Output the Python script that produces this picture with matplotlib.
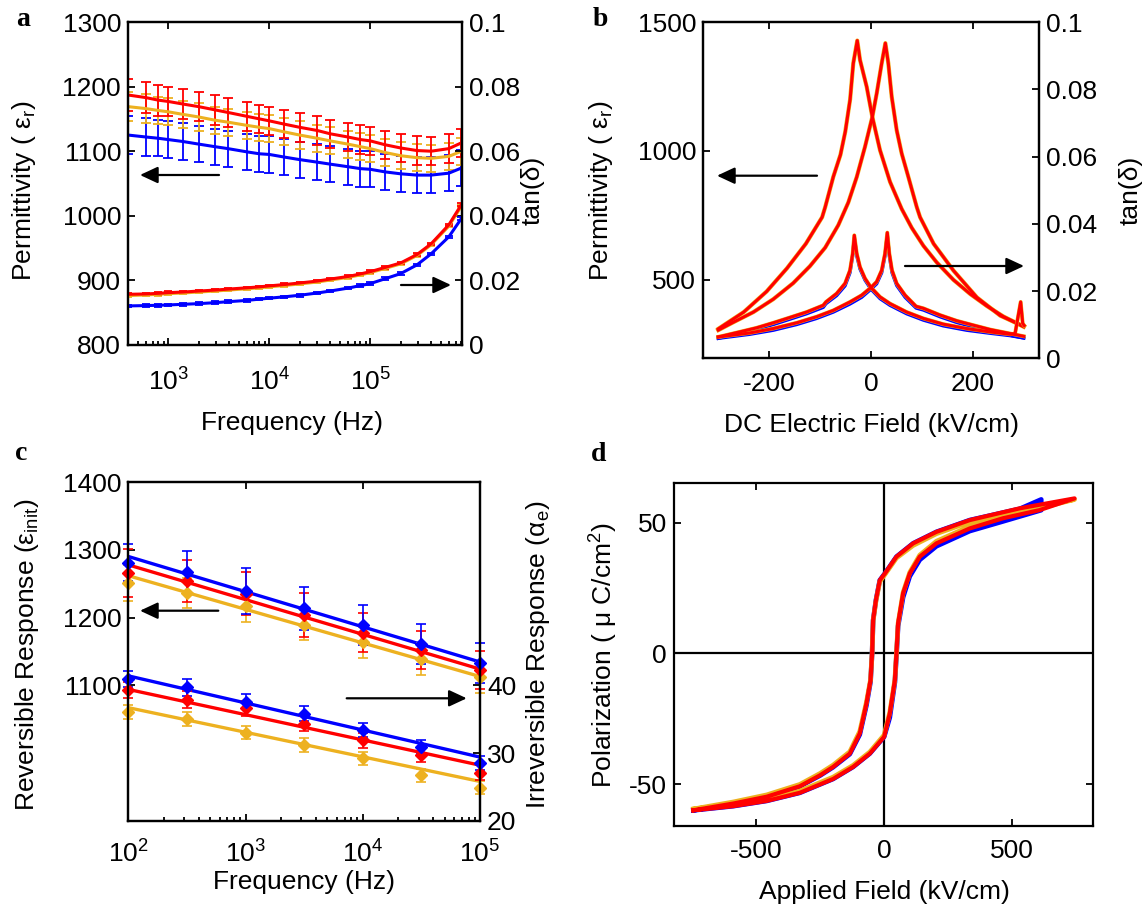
import numpy as np
import matplotlib
matplotlib.use("Agg")
import matplotlib.pyplot as plt
from matplotlib.patches import FancyArrowPatch
from matplotlib.ticker import LogLocator, NullFormatter, FuncFormatter

plt.rcParams['font.family'] = ['Liberation Sans', 'DejaVu Sans']
plt.rcParams['mathtext.fontset'] = 'custom'
plt.rcParams['mathtext.rm'] = 'Liberation Sans'
plt.rcParams['mathtext.it'] = 'Liberation Sans:italic'
plt.rcParams['mathtext.bf'] = 'Liberation Sans:bold'
plt.rcParams['axes.unicode_minus'] = False

RED = '#FF0000'
ORANGE = '#EDB120'
BLUE = '#0000FF'

# ---------------- (a) permittivity and loss vs frequency ----------------
freq_a = [400, 600, 800, 1000, 1400, 2000, 2900, 3900, 6000, 8000, 1e4, 1.4e4,
          2e4, 3e4, 4e4, 6e4, 8e4, 1e5, 1.4e5, 2e5, 2.9e5, 4e5, 6e5, 8e5]
eps_red_a = [1187, 1183, 1179, 1177, 1173, 1169, 1164, 1160, 1154, 1150, 1147, 1142,
             1137, 1132, 1127, 1122, 1118, 1116, 1110, 1105, 1101, 1100, 1104, 1113]
eps_orange_a = [1169, 1166, 1163, 1161, 1157, 1153, 1148, 1145, 1140, 1137, 1135, 1130,
                1125, 1120, 1116, 1111, 1107, 1104, 1098, 1093, 1090, 1089, 1092, 1100]
eps_blue_a = [1125, 1122, 1120, 1118, 1115, 1111, 1107, 1104, 1099, 1096, 1095, 1091,
              1087, 1083, 1080, 1076, 1073, 1072, 1068, 1065, 1063, 1063, 1066, 1074]
eps_err_red_a = [24, 24, 24, 23, 23, 23, 23, 22, 22, 22, 22, 22,
                 22, 22, 22, 22, 22, 22, 22, 22, 22, 22, 22, 22]
eps_err_orange_a = [22, 22, 21, 21, 21, 21, 21, 21, 21, 21, 21, 21,
                    21, 21, 21, 21, 21, 21, 21, 21, 21, 21, 21, 21]
eps_err_blue_a = [29, 29, 28, 28, 28, 28, 28, 28, 28, 28, 28, 28,
                  28, 28, 28, 28, 28, 28, 28, 28, 28, 28, 28, 28]
tan_red_a = [0.0157, 0.0158, 0.0160, 0.0162, 0.0164, 0.0167, 0.0170, 0.0173, 0.0177, 0.0180,
             0.0183, 0.0187, 0.0192, 0.0198, 0.0204, 0.0212, 0.0220, 0.0227, 0.0240, 0.0254,
             0.0280, 0.0313, 0.0372, 0.0435]
tan_orange_a = [0.0153, 0.0155, 0.0157, 0.0159, 0.0161, 0.0164, 0.0167, 0.0170, 0.0174, 0.0177,
                0.0180, 0.0184, 0.0189, 0.0195, 0.0201, 0.0209, 0.0217, 0.0224, 0.0237, 0.0251,
                0.0277, 0.0310, 0.0368, 0.0430]
tan_blue_a = [0.0121, 0.0122, 0.0123, 0.0124, 0.0126, 0.0128, 0.0131, 0.0134, 0.0138, 0.0142,
              0.0145, 0.0149, 0.0154, 0.0161, 0.0167, 0.0176, 0.0184, 0.0190, 0.0205, 0.0221,
              0.0248, 0.0282, 0.0335, 0.0392]
tan_err_a = [0.0004] * 24

# ---------------- (b) permittivity and loss vs DC field ----------------
field_eps_down = [-300, -250, -205, -165, -128, -96, -90, -74, -60, -50.5, -41, -34.8, -27,
                  -21.6, -8.5, 2.6, 17.7, 37.4, 60.3, 80, 103, 129, 162, 195, 228, 260, 300]
eps_down = [310, 375, 455, 545, 640, 743, 782, 900, 985, 1075, 1200, 1340, 1428,
            1353, 1249, 1132, 1003, 880, 775, 702, 632, 568, 500, 445, 398, 358, 318]
field_eps_up = [-300, -271, -231, -192, -153, -120, -90, -64.3, -44.6, -28, -11.8, 2.6, 11.2,
                21, 28.2, 34, 40.7, 50.5, 60.3, 73.4, 89.9, 96.4, 123, 162, 208, 254, 300]
eps_up = [305, 335, 375, 425, 487, 553, 625, 712, 800, 899, 1016, 1132, 1223,
          1340, 1418, 1340, 1210, 1080, 990, 899, 782, 743, 640, 536, 432, 361, 320]

field_tan_down = [-300, -258, -225, -192, -159, -126.5, -93.8, -88.5, -67.5, -51, -41.3, -36, -32.8,
                  -28, -21.6, -11.8, 0, 17.7, 37.4, 70, 103, 142, 188, 234, 273, 283, 294, 298, 301]
tan_down = [0.0064, 0.0079, 0.0091, 0.0106, 0.0122, 0.0138, 0.0158, 0.0168, 0.0193, 0.0223,
            0.0262, 0.0312, 0.0366, 0.0312, 0.0272, 0.0238, 0.0211, 0.0183, 0.0163, 0.0138,
            0.0119, 0.0102, 0.0089, 0.0079, 0.0072, 0.0074, 0.0168, 0.0104, 0.0098]
field_tan_up = [-300, -238, -192, -146, -107, -74, -41.3, -18.3, 0, 11.1, 21, 27.5, 32,
                36, 41.3, 50.5, 67, 88.5, 103, 135.7, 168.5, 201, 234, 267, 300]
tan_up = [0.0064, 0.0076, 0.0089, 0.0106, 0.0124, 0.0143, 0.0168, 0.0188, 0.0211, 0.0228,
          0.0262, 0.0312, 0.0374, 0.0312, 0.0262, 0.0223, 0.0188, 0.0155, 0.0149, 0.0129,
          0.0112, 0.0099, 0.0086, 0.0076, 0.0066]
field_tan_down_blue = [-300, -258, -225, -192, -159, -126.5, -93.8, -88.5, -67.5, -51, -41.3, -36,
                       -32.8, -28, -21.6, -11.8, 0, 17.7, 37.4, 70, 103, 142, 188, 234, 273, 300]
tan_down_blue = [0.0060, 0.0075, 0.0087, 0.0101, 0.0117, 0.0133, 0.0152, 0.0163, 0.0187, 0.0216,
                 0.0255, 0.0305, 0.0358, 0.0305, 0.0266, 0.0233, 0.0206, 0.0178, 0.0158, 0.0133,
                 0.0114, 0.0097, 0.0084, 0.0075, 0.0068, 0.0061]
tan_up_blue = [0.0060, 0.0072, 0.0084, 0.0101, 0.0119, 0.0138, 0.0162, 0.0182, 0.0206, 0.0222,
               0.0255, 0.0305, 0.0366, 0.0305, 0.0255, 0.0217, 0.0182, 0.0150, 0.0144, 0.0124,
               0.0107, 0.0094, 0.0081, 0.0071, 0.0061]

# ---------------- (c) Rayleigh analysis vs frequency ----------------
freq_c = [100, 316, 1000, 3162, 10000, 31623, 100000]
eps_init_blue = [1281.5, 1267, 1239, 1214, 1189.6, 1161.5, 1133]
eps_init_red = [1265.8, 1253.5, 1235.3, 1204, 1178, 1152.7, 1123]
eps_init_orange = [1251, 1236, 1217.6, 1189.6, 1163.5, 1139, 1112]
eps_init_err_blue = [27.5, 32, 34, 32, 29.5, 29.5, 29.5]
eps_init_err_red = [35, 31, 31.5, 32, 29, 28, 28]
eps_init_err_orange = [27, 22, 24, 22, 23, 23, 23]
alpha_blue = [40.9, 39.7, 37.6, 35.8, 33.4, 30.9, 28.5]
alpha_red = [39.3, 37.9, 36.6, 34.3, 31.9, 29.7, 27.1]
alpha_orange = [36.1, 35.0, 33.0, 31.2, 29.2, 26.7, 24.9]
alpha_err_blue = [1.2, 1.3, 1.1, 1.1, 1.1, 1.0, 1.0]
alpha_err_red = [1.2, 1.2, 1.1, 1.1, 1.1, 1.1, 1.1]
alpha_err_orange = [1.0, 1.0, 1.0, 1.0, 1.0, 1.0, 1.0]
freq_fit = [100, 100000]
eps_fit_blue = [1290.4, 1134.5]
eps_fit_red = [1278, 1124]
eps_fit_orange = [1262, 1113]
alpha_fit_blue = [41.4, 29.4]
alpha_fit_red = [39.4, 28.2]
alpha_fit_orange = [36.7, 25.8]

# ---------------- (d) polarization hysteresis ----------------
field_loop_red = [-744, -588, -458, -329, -199, -121, -56, 0, 22, 42, 48, 54.5, 74, 100, 139, 204,
                  334, 464, 606, 743,
                  529, 334, 204, 113, 48, 3, -17, -32, -43, -47, -53, -69, -95, -134, -199,
                  -250, -329, -458, -588, -744]
pol_loop_red = [-60.0, -58.4, -56.4, -53.3, -48.0, -43.4, -38.3, -31.9, -23.0, -10.2, 0, 11.5,
                23.0, 30.6, 37.0, 42.1, 47.8, 51.7, 54.8, 59.3,
                55.5, 51.0, 46.5, 42.1, 37.0, 30.6, 28.0, 20.4, 12.7, 0, -10.2, -19.1, -30.6,
                -38.3, -43.4, -46.6, -50.8, -54.8, -57.4, -60.0]
field_loop_orange = [-744, -588, -458, -329, -199, -121, -56, 0, 22, 42, 48, 54.5, 74, 100, 139,
                     204, 334, 464, 606, 743,
                     529, 334, 204, 113, 48, 3, -17, -32, -43, -47, -53, -69, -95, -134, -199,
                     -250, -329, -458, -588, -744]
pol_loop_orange = [-59.5, -57.7, -55.8, -52.6, -47.3, -42.8, -37.7, -31.2, -22.5, -10.0, 0, 11.5,
                   23.3, 31.0, 37.6, 42.9, 48.6, 52.4, 55.5, 58.9,
                   55.0, 50.3, 45.8, 41.3, 36.5, 30.2, 27.5, 20.0, 12.5, 0, -10.0, -18.6, -29.8,
                   -37.6, -42.7, -45.9, -50.1, -54.1, -56.8, -59.5]
field_loop_blue = [-744, -588, -458, -329, -199, -121, -56, 0, 22, 42, 48, 54.5, 74, 100, 139, 204,
                   334, 464, 613, 613,
                   529, 334, 204, 113, 48, 3, -17, -32, -43, -47, -53, -69, -95, -134, -199,
                   -250, -329, -458, -588, -744]
pol_loop_blue = [-60.0, -58.4, -56.4, -53.3, -48.0, -43.4, -38.3, -31.9, -24.5, -11.0, -1.0, 10.5,
                 21.5, 29.5, 35.8, 41.0, 46.8, 50.5, 54.8, 58.9,
                 55.3, 51.0, 46.5, 42.1, 37.0, 30.6, 28.0, 20.4, 12.7, 0, -10.8, -19.8, -31.0,
                 -38.5, -43.5, -46.7, -50.8, -54.8, -57.4, -60.0]

FS = 19
W, H = 1148, 911
fig = plt.figure(figsize=(W / 100, H / 100), dpi=100)


def box(l, t, r, b):
    return [l / W, 1 - b / H, (r - l) / W, (b - t) / H]


def style(ax, xpad=9):
    for s in ax.spines.values():
        s.set_linewidth(1.6)
    ax.tick_params(which='both', direction='in', labelsize=FS, width=1.3)
    ax.tick_params(which='major', length=5)
    ax.tick_params(which='minor', length=3)
    ax.tick_params(axis='y', pad=5)
    ax.tick_params(axis='x', pad=xpad)


def fmt_g(v, pos):
    return '%g' % v


def arrow(x0, y0, x1, y1):
    fig.add_artist(FancyArrowPatch((x0 / W, 1 - y0 / H), (x1 / W, 1 - y1 / H),
                                   transform=fig.transFigure,
                                   arrowstyle='-|>,head_length=0.9,head_width=0.42',
                                   mutation_scale=12, lw=1.6, color='k',
                                   shrinkA=0, shrinkB=0))


def ftext(x, y, s, **kw):
    fig.text(x / W, 1 - y / H, s, ha='center', va='center', fontsize=FS, **kw)


def letter(x, y, s):
    fig.text(x / W, 1 - y / H, s, ha='center', va='center', fontsize=20,
             fontweight='bold', family=['Liberation Serif', 'DejaVu Serif'])


# ---- panel a ----
axa = fig.add_axes(box(128, 22, 462, 345))
axa2 = axa.twinx()
axa.set_xscale('log')
for eps, err, col in [(eps_blue_a, eps_err_blue_a, BLUE),
                      (eps_orange_a, eps_err_orange_a, ORANGE),
                      (eps_red_a, eps_err_red_a, RED)]:
    axa.errorbar(freq_a, eps, yerr=err, color=col, lw=2.2, elinewidth=1.3,
                 capsize=3.5, capthick=1.3)
for tan, col in [(tan_blue_a, BLUE), (tan_orange_a, ORANGE), (tan_red_a, RED)]:
    axa2.errorbar(freq_a, tan, yerr=tan_err_a, color=col, lw=2.2, elinewidth=1.3,
                  capsize=3.0, capthick=1.3)
axa.set_xlim(400, 8.1e5)
axa.set_ylim(800, 1300)
axa.set_yticks([800, 900, 1000, 1100, 1200, 1300])
axa2.set_ylim(0, 0.1)
axa2.set_yticks([0, 0.02, 0.04, 0.06, 0.08, 0.1])
axa2.yaxis.set_major_formatter(FuncFormatter(fmt_g))
axa.xaxis.set_major_locator(LogLocator(base=10, numticks=10))
axa.xaxis.set_minor_locator(LogLocator(base=10, subs=np.arange(2, 10), numticks=10))
axa.xaxis.set_minor_formatter(NullFormatter())
for ax in (axa, axa2):
    style(ax, xpad=17)
axa.tick_params(which='major', top=True)
axa.tick_params(which='minor', top=False)
axa.tick_params(axis='y', right=False)
axa2.tick_params(axis='y', left=False, right=True)
ftext(24, 191, 'Permittivity ( ε$_\\mathregular{r}$)', rotation=90)
ftext(533, 190, 'tan(δ)', rotation=90)
ftext(292, 423, 'Frequency (Hz)')
arrow(219, 175, 140, 175)
arrow(401, 285, 451, 285)
letter(23, 20, 'a')

# ---- panel b ----
axb = fig.add_axes(box(703, 22, 1039, 358.5))
axb2 = axb.twinx()
for col, lw in [(ORANGE, 3.0), (RED, 2.2)]:
    axb.plot(field_eps_down, eps_down, color=col, lw=lw)
    axb.plot(field_eps_up, eps_up, color=col, lw=lw)
axb2.plot(field_tan_down_blue, tan_down_blue, color=BLUE, lw=2.4)
axb2.plot(field_tan_up, tan_up_blue, color=BLUE, lw=2.4)
for col, lw in [(ORANGE, 2.8), (RED, 2.2)]:
    axb2.plot(field_tan_down, tan_down, color=col, lw=lw)
    axb2.plot(field_tan_up, tan_up, color=col, lw=lw)
axb.set_xlim(-330, 330)
axb.set_ylim(195, 1500)
axb.set_xticks([-200, 0, 200])
axb.set_yticks([500, 1000, 1500])
axb2.set_ylim(0, 0.1)
axb2.set_yticks([0, 0.02, 0.04, 0.06, 0.08, 0.1])
axb2.yaxis.set_major_formatter(FuncFormatter(fmt_g))
for ax in (axb, axb2):
    style(ax, xpad=10)
axb.tick_params(which='major', top=True)
axb.tick_params(axis='y', right=False)
axb2.tick_params(axis='y', left=False, right=True)
ftext(601, 191, 'Permittivity ( ε$_\\mathregular{r}$)', rotation=90)
ftext(1131, 190, 'tan(δ)', rotation=90)
ftext(871, 425, 'DC Electric Field (kV/cm)')
arrow(817, 175.7, 717, 175.7)
arrow(905, 266, 1024, 266)
letter(600, 20, 'b')

# ---- panel c ----
axc = fig.add_axes(box(128.3, 482.3, 480, 820.7))
axc2 = axc.twinx()
axc.set_xscale('log')
for fit, col in [(eps_fit_orange, ORANGE), (eps_fit_red, RED), (eps_fit_blue, BLUE)]:
    axc.plot(freq_fit, fit, color=col, lw=2.4)
for vals, err, col in [(eps_init_orange, eps_init_err_orange, ORANGE),
                       (eps_init_red, eps_init_err_red, RED),
                       (eps_init_blue, eps_init_err_blue, BLUE)]:
    axc.errorbar(freq_c, vals, yerr=err, color=col, ls='none', marker='D', ms=6,
                 elinewidth=1.2, capsize=3.5, capthick=1.2, clip_on=False)
for fit, col in [(alpha_fit_orange, ORANGE), (alpha_fit_red, RED), (alpha_fit_blue, BLUE)]:
    axc2.plot(freq_fit, fit, color=col, lw=2.4)
for vals, err, col in [(alpha_orange, alpha_err_orange, ORANGE),
                       (alpha_red, alpha_err_red, RED),
                       (alpha_blue, alpha_err_blue, BLUE)]:
    axc2.errorbar(freq_c, vals, yerr=err, color=col, ls='none', marker='D', ms=6,
                  elinewidth=1.2, capsize=3.5, capthick=1.2, clip_on=False)
axc.set_xlim(1e2, 1e5)
axc.set_ylim(900, 1400)
axc.set_yticks([1100, 1200, 1300, 1400])
axc2.set_ylim(20, 70)
axc2.set_yticks([20, 30, 40])
axc.xaxis.set_major_locator(LogLocator(base=10, numticks=10))
axc.xaxis.set_minor_locator(LogLocator(base=10, subs=np.arange(2, 10), numticks=10))
axc.xaxis.set_minor_formatter(NullFormatter())
for ax in (axc, axc2):
    style(ax, xpad=14)
axc.tick_params(which='major', top=True)
axc.tick_params(which='minor', top=False)
axc.tick_params(axis='y', right=False)
axc2.tick_params(axis='y', left=False, right=True)
ftext(27, 655, 'Reversible Response (ε$_\\mathregular{init}$)', rotation=90)
ftext(538, 655, 'Irreversible Response (α$_\\mathregular{e}$)', rotation=90)
ftext(304, 881.7, 'Frequency (Hz)')
arrow(218.3, 610.7, 140, 610.7)
arrow(346.7, 698.3, 466.7, 698.3)
letter(21, 454, 'c')

# ---- panel d ----
axd = fig.add_axes(box(674, 482.7, 1093, 826))
axd.axhline(0, color='k', lw=1.6, zorder=1)
axd.axvline(0, color='k', lw=1.6, zorder=1)
axd.plot(field_loop_blue, pol_loop_blue, color=BLUE, lw=3.4)
axd.plot(field_loop_orange, pol_loop_orange, color=ORANGE, lw=3.4)
axd.plot(field_loop_red, pol_loop_red, color=RED, lw=3.0)
axd.set_xlim(-820, 815)
axd.set_ylim(-66, 65.3)
axd.set_xticks([-500, 0, 500])
axd.set_yticks([-50, 0, 50])
style(axd)
axd.tick_params(top=True, right=True)
ftext(604, 655, 'Polarization ( μ C/cm$^\\mathregular{2}$)', rotation=90)
ftext(884, 891.7, 'Applied Field (kV/cm)')
letter(599, 455, 'd')

fig.savefig('out.png', dpi=100)
